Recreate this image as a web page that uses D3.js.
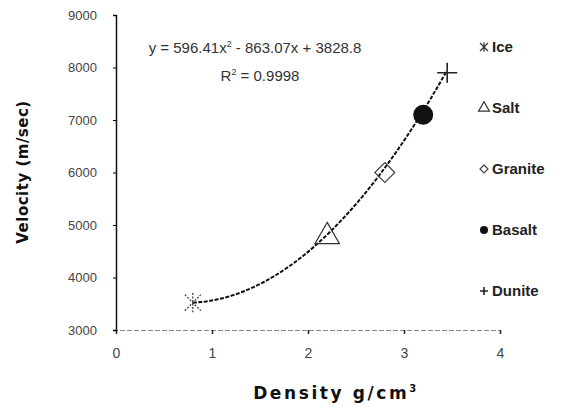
<!DOCTYPE html>
<head>
    <meta charset="utf-8">
    <script src="https://d3js.org/d3.v7.min.js"></script>
    <style>
        body { margin: 0; background: #fff; }
    </style>
</head>
<body>
    <svg></svg>
    <script>
        // rock samples: density (g/cm3) vs velocity (m/sec)
        var rocks = ["Ice", "Salt", "Granite", "Basalt", "Dunite"];
        var densities = [0.8, 2.2, 2.8, 3.2, 3.45];
        var velocities = [3520, 4780, 6000, 7100, 7900];
        var xTicks = [0, 1, 2, 3, 4];
        var yTicks = [3000, 4000, 5000, 6000, 7000, 8000, 9000];
        // quadratic trendline coefficients (from the chart)
        var coef = [596.41, -863.07, 3828.8];

        var width = 575, height = 406;
        var margin = { top: 15, right: 78, bottom: 76, left: 116 };

        var x = d3.scaleLinear()
            .domain([0, 4])
            .range([margin.left, width - margin.right + 3]);
        var y = d3.scaleLinear()
            .domain([3000, 9000])
            .range([height - margin.bottom, margin.top]);

        var svg = d3.select("svg")
            .attr("width", width)
            .attr("height", height);

        // x axis (faint, dotted)
        var gx = svg.append("g")
            .attr("transform", "translate(0," + y(3000) + ")")
            .call(d3.axisBottom(x).tickValues(xTicks).tickSize(4).tickPadding(14).tickFormat(d3.format("d")));
        gx.select(".domain").attr("stroke", "#888").attr("stroke-dasharray", "5,2");
        gx.selectAll(".tick line").attr("stroke", "#222").attr("stroke-width", 1.5);
        gx.selectAll(".tick text")
            .attr("fill", "#444")
            .style("font", "14px 'Liberation Sans', Arial, sans-serif");

        // y axis
        var gy = svg.append("g")
            .attr("transform", "translate(" + x(0) + ",0)")
            .call(d3.axisLeft(y).tickValues(yTicks).tickSize(3).tickPadding(16).tickFormat(d3.format("d")));
        gy.select(".domain").attr("stroke", "#111").attr("stroke-width", 1.5);
        gy.selectAll(".tick text")
            .attr("fill", "#444")
            .style("font", "13px 'Liberation Sans', Arial, sans-serif");

        // trendline
        var fit = function (d) { return coef[0] * d * d + coef[1] * d + coef[2]; };
        var xs = d3.range(densities[0], densities[4] + 0.001, 0.02);
        svg.append("path")
            .datum(xs)
            .attr("fill", "none")
            .attr("stroke", "#111")
            .attr("stroke-width", 2)
            .attr("stroke-dasharray", "4,1.5")
            .attr("d", d3.line().x(function (d) { return x(d); }).y(function (d) { return y(fit(d)); }));

        // marker drawing, s = size
        function marker(g, kind, s) {
            if (kind === "Ice") {
                g.append("path").attr("d", "M" + (-s) + "," + (-s) + "L" + s + "," + s + "M" + (-s) + "," + s + "L" + s + "," + (-s) + "M0," + (-s * 1.2) + "L0," + (s * 1.2))
                    .attr("stroke", "#333").attr("stroke-width", 1.2).attr("stroke-dasharray", s > 5 ? "2,1.5" : null);
            } else if (kind === "Salt") {
                g.append("path").attr("d", d3.symbol().type(d3.symbolTriangle).size(s * s * 3.2)())
                    .attr("fill", "none").attr("stroke", "#333").attr("stroke-width", 1.2);
            } else if (kind === "Granite") {
                g.append("path").attr("d", "M0," + (-s) + "L" + s + ",0L0," + s + "L" + (-s) + ",0Z")
                    .attr("fill", "none").attr("stroke", "#444").attr("stroke-width", 1.2);
            } else if (kind === "Basalt") {
                g.append("circle").attr("r", s).attr("fill", "#111");
            } else {
                g.append("path").attr("d", "M" + (-s) + ",0L" + s + ",0M0," + (-s) + "L0," + s)
                    .attr("stroke", "#222").attr("stroke-width", 1.6);
            }
        }

        var pts = svg.selectAll(".pt")
            .data(rocks)
            .enter().append("g")
            .attr("class", "pt")
            .attr("transform", function (d, i) { return "translate(" + x(densities[i]) + "," + y(velocities[i]) + ")"; });
        pts.each(function (d) {
            var s = { Ice: 8, Salt: 9, Granite: 10, Basalt: 10, Dunite: 10 }[d];
            marker(d3.select(this), d, s);
        });

        // equation
        svg.append("text")
            .attr("x", 255).attr("y", 53)
            .attr("text-anchor", "middle")
            .attr("fill", "#333")
            .style("font", "15px 'Liberation Sans', Arial, sans-serif")
            .html("y = 596.41x<tspan dy='-6' font-size='9'>2</tspan><tspan dy='6'> - 863.07x + 3828.8</tspan>");
        svg.append("text")
            .attr("x", 260).attr("y", 81)
            .attr("text-anchor", "middle")
            .attr("fill", "#333")
            .style("font", "15px 'Liberation Sans', Arial, sans-serif")
            .html("R<tspan dy='-6' font-size='9'>2</tspan><tspan dy='6'> = 0.9998</tspan>");

        // legend
        var leg = svg.selectAll(".leg")
            .data(rocks)
            .enter().append("g")
            .attr("class", "leg")
            .attr("transform", function (d, i) { return "translate(484," + (47 + i * 61) + ")"; });
        leg.each(function (d) { marker(d3.select(this), d, 4); });
        leg.append("text")
            .attr("x", 8).attr("y", 5)
            .attr("fill", "#222")
            .style("font", "bold 15px 'Liberation Sans', Arial, sans-serif")
            .text(function (d) { return d; });

        // axis titles
        svg.append("text")
            .attr("transform", "translate(28,172) rotate(-90)")
            .attr("text-anchor", "middle")
            .attr("fill", "#111")
            .style("font", "bold 15px 'DejaVu Sans', sans-serif")
            .style("letter-spacing", "0.5px")
            .text("Velocity (m/sec)");
        svg.append("text")
            .attr("x", 336).attr("y", 399)
            .attr("text-anchor", "middle")
            .attr("fill", "#111")
            .style("font", "bold 17px 'DejaVu Sans', sans-serif")
            .style("letter-spacing", "2.6px")
            .html("Density g/cm<tspan dy='-7' font-size='10'>3</tspan>");
    </script>
</body>
